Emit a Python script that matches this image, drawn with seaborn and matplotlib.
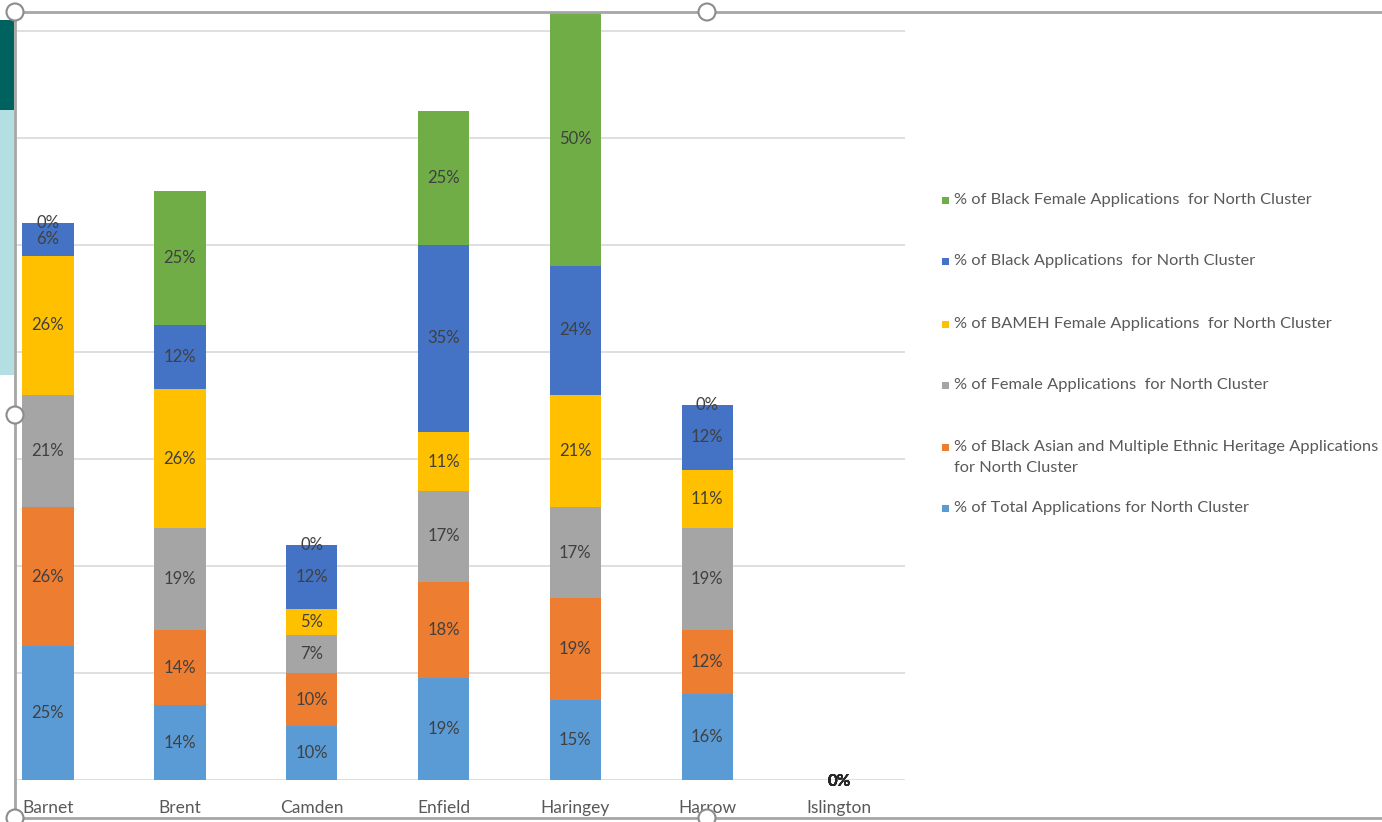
import matplotlib
matplotlib.use("Agg")
import matplotlib.pyplot as plt
from matplotlib.patches import Rectangle, Ellipse
from matplotlib.lines import Line2D
import seaborn as sns
import numpy as np

# Boroughs of the North Cluster
districts = ["Barnet", "Brent", "Camden", "Enfield", "Haringey", "Harrow", "Islington"]

# Stacked series, bottom to top (percent)
total_apps = [25, 14, 10, 19, 15, 16, 0]
bameh_apps = [26, 14, 10, 18, 19, 12, 0]
female_apps = [21, 19, 7, 17, 17, 19, 0]
bameh_female_apps = [26, 26, 5, 11, 21, 11, 0]
black_apps = [6, 12, 12, 35, 24, 12, 0]
black_female_apps = [0, 25, 0, 25, 50, 0, 0]

series_names = [
    "% of Total Applications for North Cluster",
    "% of Black Asian and Multiple Ethnic Heritage Applications\nfor North Cluster",
    "% of Female Applications  for North Cluster",
    "% of BAMEH Female Applications  for North Cluster",
    "% of Black Applications  for North Cluster",
    "% of Black Female Applications  for North Cluster",
]
series_values = [total_apps, bameh_apps, female_apps, bameh_female_apps,
                 black_apps, black_female_apps]
series_colors = ["#5B9BD5", "#ED7D31", "#A5A5A5", "#FFC000", "#4472C4", "#70AD47"]

sns.set_style("white")
plt.rcParams["font.family"] = ["Lato", "DejaVu Sans"]

W, H = 1382, 822
fig = plt.figure(figsize=(W / 100, H / 100), dpi=100)
fig.patch.set_facecolor("white")

def fx(px):
    return px / W

def fy(py):
    return 1 - py / H

ax = fig.add_axes([fx(15), fy(780), fx(905) - fx(15), fy(12) - fy(780)])
ax.set_facecolor("white")

bottom = np.zeros(len(districts))
for name, vals, col in zip(series_names, series_values, series_colors):
    sns.barplot(x=districts, y=vals, bottom=bottom, color=col, saturation=1,
                width=0.39, ax=ax, order=districts, linewidth=0)
    bottom = bottom + np.array(vals, dtype=float)

totals = bottom
for cont in ax.containers:
    vals = [rect.get_height() for rect in cont]
    texts = ax.bar_label(cont, labels=[f"{v:.0f}%" for v in vals],
                         label_type="center", fontsize=12, color="#404040")
    # an empty column shows its stacked zero labels as one heavy label
    for t, tot in zip(texts, totals):
        if tot == 0:
            t.set_fontweight("bold")
            t.set_color("#262626")
            t.set_y(t.get_position()[1] - 1)

ax.set_xlim(-0.25, 6.5)
ax.set_ylim(0, 143.5)
ax.set_yticks(np.arange(0, 141, 20))
ax.yaxis.grid(True, color="#d9d9d9", linewidth=1.2)
ax.set_axisbelow(True)
ax.tick_params(axis="y", left=False, labelleft=False)
ax.tick_params(axis="x", bottom=False, labelsize=12.5, labelcolor="#595959", pad=11)
ax.set_xlabel("")
ax.set_ylabel("")
for s in ax.spines.values():
    s.set_visible(False)

# Legend on the right, top entry first
legend_rows = [200, 261, 324, 385, 447, 508]
legend_size = 11.8
for row, name, col in zip(legend_rows, series_names[::-1], series_colors[::-1]):
    fig.add_artist(Rectangle((fx(942), fy(row + 4)), fx(7), 7 / H,
                             transform=fig.transFigure, color=col, lw=0))
    if "\n" in name:
        fig.text(fx(954), fy(row - 7), name, fontsize=legend_size,
                 color="#595959", va="top", ha="left", linespacing=1.65)
    else:
        fig.text(fx(954), fy(row), name, fontsize=legend_size,
                 color="#595959", va="center", ha="left")

# Selection frame and handles around the chart object
frame_col = "#a6a6a6"
fig.add_artist(Line2D([fx(15), 1], [fy(12), fy(12)], color=frame_col, lw=2,
                      transform=fig.transFigure))
fig.add_artist(Line2D([fx(15), 1], [fy(818), fy(818)], color=frame_col, lw=2,
                      transform=fig.transFigure))
fig.add_artist(Line2D([fx(15), fx(15)], [fy(12), fy(818)], color=frame_col, lw=2,
                      transform=fig.transFigure))

# Side strips at the left edge
fig.add_artist(Rectangle((0, fy(110)), fx(14), (110 - 20) / H,
                         transform=fig.transFigure, color="#00625F", lw=0))
fig.add_artist(Rectangle((0, fy(375)), fx(14), (375 - 110) / H,
                         transform=fig.transFigure, color="#B4DFE2", lw=0))

for hx, hy in [(15, 12), (707, 12), (15, 415), (15, 818), (707, 818)]:
    fig.add_artist(Ellipse((fx(hx), fy(hy)), 17 / W, 17 / H,
                           transform=fig.transFigure, facecolor="white",
                           edgecolor="#8c8c8c", lw=1.5, zorder=10))

fig.savefig("out.png", dpi=100)
